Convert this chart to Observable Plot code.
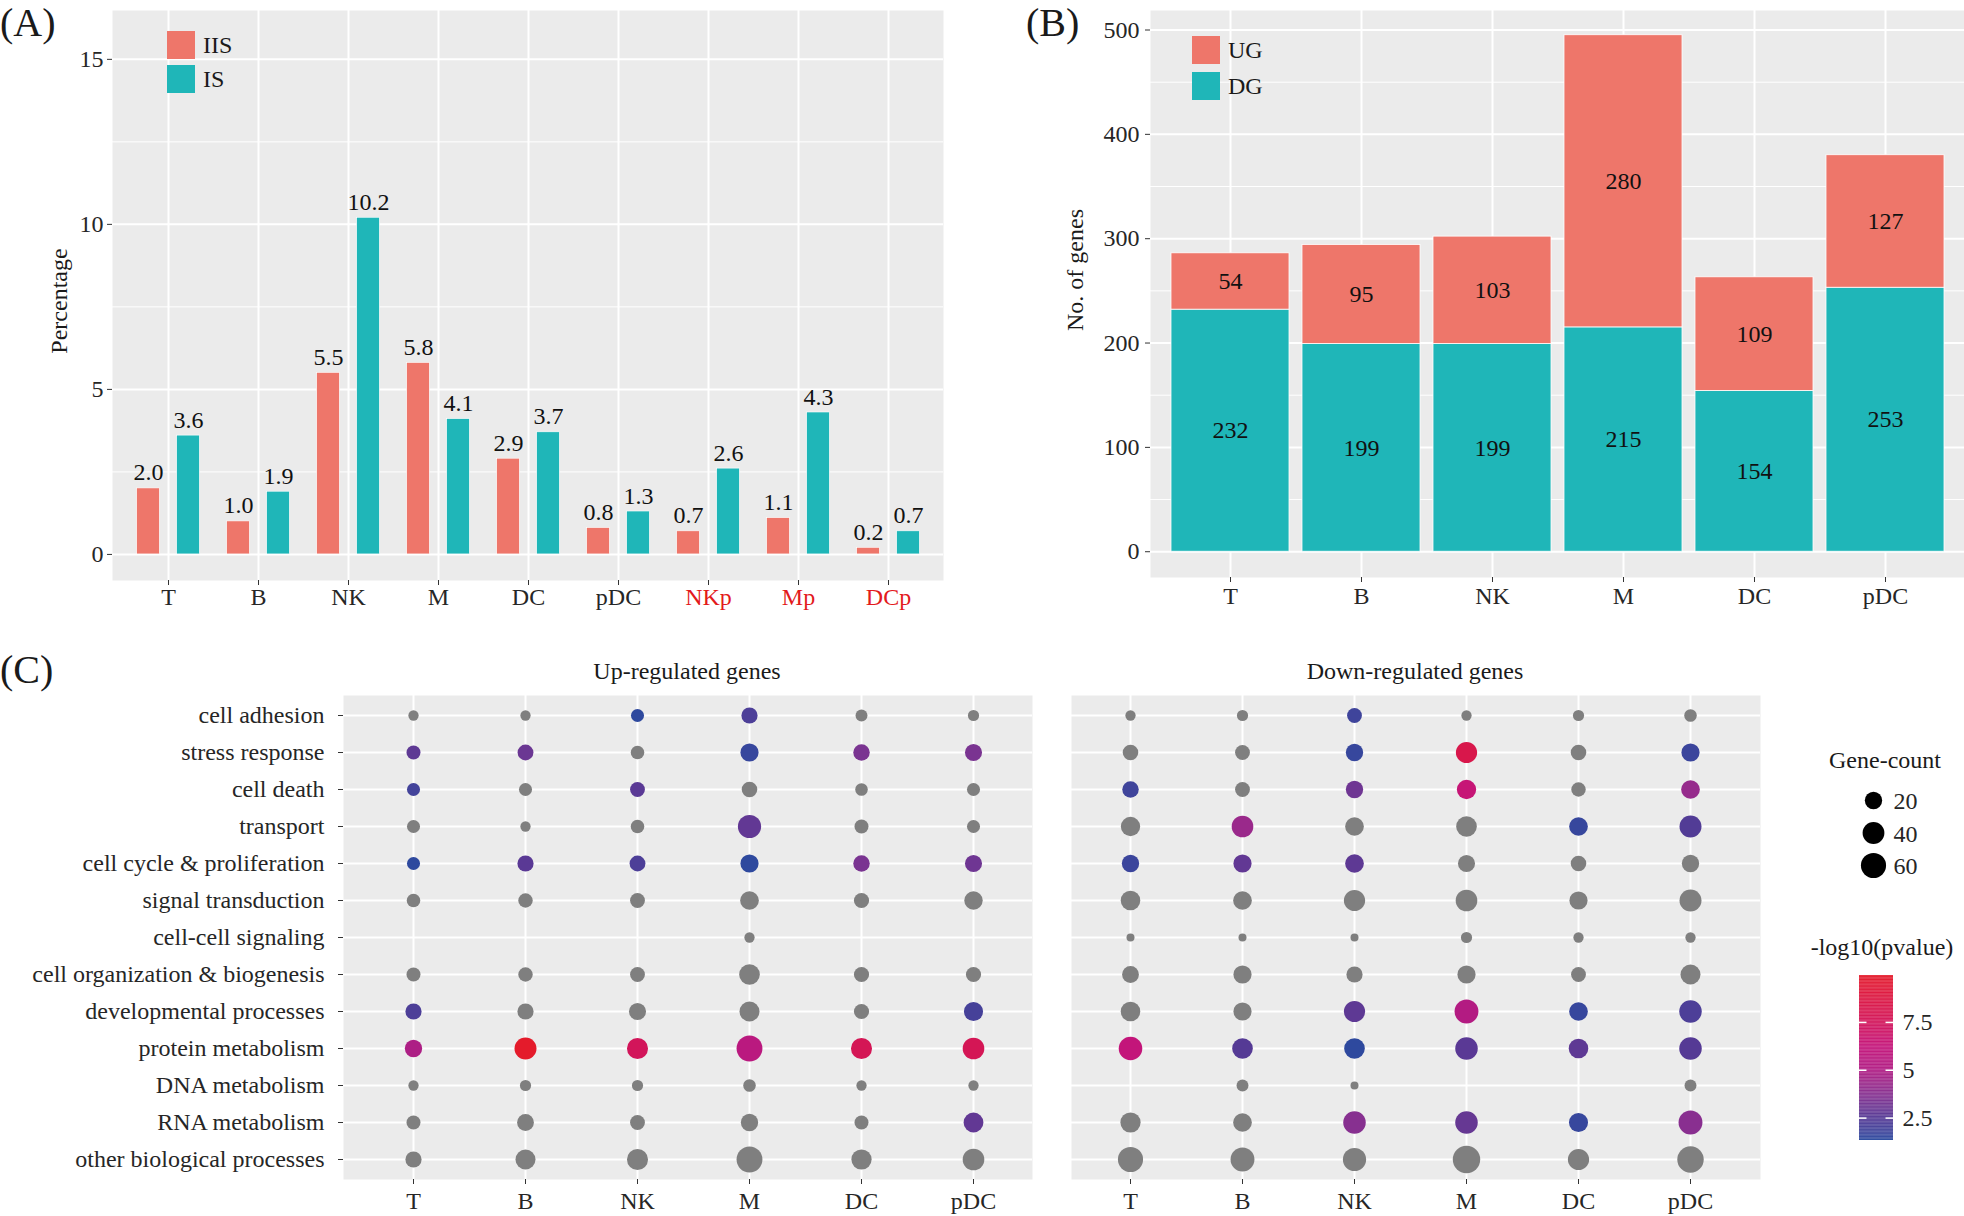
<!DOCTYPE html>
<html><head><meta charset="utf-8">
<script src="https://cdn.jsdelivr.net/npm/d3@7"></script>
<script src="https://cdn.jsdelivr.net/npm/@observablehq/plot@0.6"></script>
<style>
body{margin:0;background:#fff;}
#root{position:relative;width:1964px;height:1216px;overflow:hidden;font-family:"Liberation Serif","Times New Roman",serif;color:#1a1a1a;}
</style></head><body><div id="root"></div>
<script>
// ---------------- DATA ----------------
const cellsA = ["T","B","NK","M","DC","pDC","NKp","Mp","DCp"];
const redCellsA = ["NKp","Mp","DCp"];
const iisA = [2.0,1.0,5.5,5.8,2.9,0.8,0.7,1.1,0.2];
const isA  = [3.6,1.9,10.2,4.1,3.7,1.3,2.6,4.3,0.7];
const ticksA = [0,5,10,15];
const minorA = [2.5,7.5,12.5];

const cellsB = ["T","B","NK","M","DC","pDC"];
const ugB = [54,95,103,280,109,127];
const dgB = [232,199,199,215,154,253];
const ticksB = [0,100,200,300,400,500];
const minorB = [50,150,250,350,450];

const cellsC = ["T","B","NK","M","DC","pDC"];
const processes = ["cell adhesion","stress response","cell death","transport","cell cycle & proliferation","signal transduction","cell-cell signaling","cell organization & biogenesis","developmental processes","protein metabolism","DNA metabolism","RNA metabolism","other biological processes"];
const upCount = [
 [4,4,8,16,6,5],
 [10,15,9,23,17,19],
 [8,8,12,14,7,8],
 [8,4,9,48,10,8],
 [8,16,15,23,17,19],
 [9,11,12,25,13,24],
 [null,null,null,4,null,null],
 [10,11,12,34,13,13],
 [16,16,19,31,13,27],
 [20,41,36,65,36,39],
 [4,5,5,7,4,4],
 [10,18,12,20,10,30],
 [16,31,36,65,32,39]
];
const upP = [
 [null,null,1.4,2.2,null,null],
 [2.7,3.0,null,1.6,3.4,3.4],
 [1.9,null,2.6,null,null,null],
 [null,null,null,2.8,null,null],
 [1.4,2.6,2.2,1.4,3.4,3.1],
 [null,null,null,null,null,null],
 [null,null,null,null,null,null],
 [null,null,null,null,null,null],
 [2.2,null,null,null,null,2.0],
 [4.9,9.94,7.5,5.6,7.8,7.8],
 [null,null,null,null,null,null],
 [null,null,null,null,null,2.8],
 [null,null,null,null,null,null]
];
const downCount = [
 [4,5,12,4,5,7],
 [14,12,20,37,14,23],
 [17,12,20,28,11,25],
 [28,39,25,34,25,41],
 [20,23,25,19,14,20],
 [29,25,37,39,23,41],
 [3,3,3,5,4,4],
 [18,23,16,23,12,31],
 [29,23,37,52,25,44],
 [50,34,34,44,29,44],
 [null,6,3,null,null,6],
 [32,25,44,44,27,52],
 [60,52,48,76,37,69]
];
const downP = [
 [null,null,1.8,null,null,null],
 [null,null,1.6,8.3,null,1.7],
 [1.8,null,3.1,6.4,null,4.2],
 [null,4.3,null,null,1.6,2.4],
 [1.7,2.8,2.7,null,null,null],
 [null,null,null,null,null,null],
 [null,null,null,null,null,null],
 [null,null,null,null,null,null],
 [null,null,2.7,5.2,1.6,2.2],
 [6.2,2.5,1.4,2.6,2.7,2.5],
 [null,null,null,null,null,null],
 [null,null,3.75,2.9,1.6,3.8],
 [null,null,null,null,null,null]
];
const sizeBreaks = [20,40,60];
const colorTicks = [2.5,5,7.5];
const pRange = [1.33, 9.95];

// ---------------- STYLE ----------------
const FONT = '"Liberation Serif","Times New Roman",serif';
const SALMON = "#EE766A", TEAL = "#1FB6B8", PANEL = "#ebebeb", GRAYDOT = "#7f7f7f";
const TXT = "#262626", TICK = "#333333";
const root = document.getElementById("root");
const baseStyle = {fontFamily: FONT, fontSize: "24px", background: "transparent", overflow: "visible", color: TXT};

function place(el, x, y) {
  el.style.position = "absolute"; el.style.left = x + "px"; el.style.top = y + "px";
  el.style.overflow = "visible"; el.style.maxWidth = "none";
  root.appendChild(el);
}
function label(s, x, base, opts = {}) {
  const size = opts.size || 24;
  const lh = opts.lh || 1;
  const off = ((lh - 1.107) / 2 + 0.891) * size;
  const d = document.createElement("div");
  d.textContent = s;
  d.style.cssText = `position:absolute;left:${x}px;top:${base - off}px;font-size:${size}px;line-height:${lh};white-space:nowrap;color:${opts.color || "#1a1a1a"};font-family:${FONT};`;
  if (opts.anchor === "middle") d.style.transform = "translateX(-50%)";
  if (opts.anchor === "end") d.style.transform = "translateX(-100%)";
  root.appendChild(d);
}
function vlabel(s, cx, cy, size = 24) {
  const d = document.createElement("div");
  d.textContent = s;
  d.style.cssText = `position:absolute;left:${cx}px;top:${cy}px;font-size:${size}px;line-height:1;white-space:nowrap;color:#1a1a1a;font-family:${FONT};transform:translate(-50%,-50%) rotate(-90deg);`;
  root.appendChild(d);
}
function swatch(x, y, w, h, color) {
  const d = document.createElement("div");
  d.style.cssText = `position:absolute;left:${x}px;top:${y}px;width:${w}px;height:${h}px;background:${color};`;
  root.appendChild(d);
}

// ---------------- PANEL A ----------------
const aIIS = cellsA.map((c, i) => ({cell: c, v: iisA[i]}));
const aIS = cellsA.map((c, i) => ({cell: c, v: isA[i]}));
const stepA = (943 - 112) / 9.2;
const insA = (stepA - 23) / 2;
const plotA = Plot.plot({
  width: 1015, height: 620, marginLeft: 112, marginRight: 72, marginTop: 10, marginBottom: 40,
  style: baseStyle,
  x: {type: "band", domain: cellsA, paddingInner: 0, paddingOuter: 0.1, axis: null},
  y: {domain: [-0.79, 16.48], axis: null},
  marks: [
    Plot.frame({fill: PANEL, stroke: "none"}),
    Plot.ruleY(minorA, {stroke: "#fff", strokeWidth: 1}),
    Plot.ruleY(ticksA, {stroke: "#fff", strokeWidth: 2}),
    Plot.ruleX(cellsA, {x: d => d, stroke: "#fff", strokeWidth: 2}),
    Plot.barY(aIIS, {x: "cell", y: "v", fill: SALMON, stroke: "#fff", strokeWidth: 0.6, insetLeft: insA, insetRight: insA, dx: -20}),
    Plot.barY(aIS, {x: "cell", y: "v", fill: TEAL, stroke: "#fff", strokeWidth: 0.6, insetLeft: insA, insetRight: insA, dx: 20}),
    Plot.text(aIIS, {x: "cell", y: "v", text: d => d.v.toFixed(1), dx: -20, dy: -8, lineAnchor: "bottom", fontSize: 24, fill: "#111"}),
    Plot.text(aIS, {x: "cell", y: "v", text: d => d.v.toFixed(1), dx: 20, dy: -8, lineAnchor: "bottom", fontSize: 24, fill: "#111"}),
    Plot.axisY({ticks: ticksA, tickSize: 5, tickPadding: 4, fontSize: 24, fill: TXT, stroke: TICK, label: null}),
    Plot.axisX({tickSize: 5, tickFormat: () => "", stroke: TICK, label: null}),
    Plot.text(cellsA, {x: d => d, text: d => d, frameAnchor: "bottom", lineAnchor: "top", dy: 7, fontSize: 24,
      fill: d => redCellsA.includes(d) ? "#e31a1c" : TXT})
  ]
});
place(plotA, 0, 0);
label("(A)", 0, 36, {size: 40});
vlabel("Percentage", 59, 301);
swatch(167, 31, 28, 28, SALMON);
swatch(167, 65, 28, 28, TEAL);
label("IIS", 203, 53);
label("IS", 203, 87);

// ---------------- PANEL B ----------------
const bData = cellsB.flatMap((c, i) => [
  {cell: c, g: "DG", v: dgB[i], mid: dgB[i] / 2},
  {cell: c, g: "UG", v: ugB[i], mid: dgB[i] + ugB[i] / 2}
]);
const plotB = Plot.plot({
  width: 949, height: 620, marginLeft: 135, marginRight: 0, marginTop: 10, marginBottom: 43,
  style: baseStyle,
  x: {type: "band", domain: cellsB, paddingInner: 0.1, paddingOuter: 0.15, axis: null},
  y: {domain: [-24.7, 518.7], axis: null},
  color: {domain: ["UG", "DG"], range: [SALMON, TEAL]},
  marks: [
    Plot.frame({fill: PANEL, stroke: "none"}),
    Plot.ruleY(minorB, {stroke: "#fff", strokeWidth: 1}),
    Plot.ruleY(ticksB, {stroke: "#fff", strokeWidth: 2}),
    Plot.ruleX(cellsB, {x: d => d, stroke: "#fff", strokeWidth: 2}),
    Plot.barY(bData, Plot.stackY({x: "cell", y: "v", z: "g", fill: "g", stroke: "#fff", strokeWidth: 0.8})),
    Plot.text(bData, {x: "cell", y: "mid", text: d => String(d.v), fontSize: 24, fill: "#111"}),
    Plot.axisY({ticks: ticksB, tickSize: 5, tickPadding: 6, fontSize: 24, fill: TXT, stroke: TICK, label: null}),
    Plot.axisX({tickSize: 5, tickPadding: 4, fontSize: 24, fill: TXT, stroke: TICK, label: null})
  ]
});
place(plotB, 1015, 0);
label("(B)", 1026, 36, {size: 40});
vlabel("No. of genes", 1075, 270);
swatch(1192, 36, 28, 28, SALMON);
swatch(1192, 72, 28, 28, TEAL);
label("UG", 1228, 58);
label("DG", 1228, 94);

// ---------------- PANEL C ----------------
const rOf = v => 1 + Math.sqrt(Math.max(0, (v - 3) / 73));
const rScale = {type: "linear", domain: [1, 2], range: [4.0, 13.7]};
const colorScale = {
  type: "linear",
  domain: [1.33, 2.5, 3.75, 5, 6.25, 7.5, 9.95],
  range: ["#2a4a9f", "#553a95", "#873090", "#b01c84", "#c4157a", "#d2155a", "#e41b2b"],
  interpolate: "lab"
};
function dotPanel(counts, ps, showY, W, H, mL, mR, mT, mB, alignX) {
  const gray = [], sig = [];
  processes.forEach((p, i) => cellsC.forEach((c, j) => {
    const n = counts[i][j];
    if (n == null) return;
    const d = {proc: p, cell: c, n, p: ps[i][j]};
    (d.p == null ? gray : sig).push(d);
  }));
  return Plot.plot({
    width: W, height: H, marginLeft: mL, marginRight: mR, marginTop: mT, marginBottom: mB,
    style: baseStyle,
    x: {type: "point", domain: cellsC, padding: 0.55, align: alignX, axis: null},
    y: {type: "point", domain: processes, padding: 0.52, axis: null},
    r: rScale,
    color: colorScale,
    marks: [
      Plot.frame({fill: PANEL, stroke: "none"}),
      Plot.ruleY(processes, {y: d => d, stroke: "#fff", strokeWidth: 2}),
      Plot.ruleX(cellsC, {x: d => d, stroke: "#fff", strokeWidth: 2}),
      Plot.dot(gray, {x: "cell", y: "proc", r: d => rOf(d.n), fill: GRAYDOT}),
      Plot.dot(sig, {x: "cell", y: "proc", r: d => rOf(d.n), fill: "p"}),
      Plot.axisX({tickSize: 5, tickPadding: 7, fontSize: 24, fill: TXT, stroke: TICK, label: null}),
      showY ? Plot.axisY({tickSize: 5, tickPadding: 14, fontSize: 24, fill: TXT, stroke: TICK, label: null}) : null
    ]
  });
}
const plotUp = dotPanel(upCount, upP, true, 1050, 566, 343, 18, 45, 37, 0.54);
place(plotUp, 0, 650);
const plotDown = dotPanel(downCount, downP, false, 720, 566, 21, 10, 45, 37, 0.46);
place(plotDown, 1050, 650);
label("(C)", 0, 683, {size: 40});
label("Up-regulated genes", 687, 679, {anchor: "middle"});
label("Down-regulated genes", 1415, 679, {anchor: "middle"});

// size legend
label("Gene-count", 1885, 768, {anchor: "middle"});
const sizeLeg = Plot.plot({
  width: 100, height: 110, marginLeft: 0, marginRight: 0, marginTop: 0, marginBottom: 0,
  style: baseStyle,
  x: {domain: [0, 1], range: [20, 40], axis: null},
  y: {domain: [20, 60], range: [20, 85], axis: null},
  r: rScale,
  marks: [
    Plot.dot(sizeBreaks, {x: 0, y: d => d, r: d => rOf(d), fill: "#000"}),
    Plot.text(sizeBreaks, {x: 0, y: d => d, text: d => String(d), dx: 20, dy: 1, textAnchor: "start", fontSize: 24, fill: TXT})
  ]
});
place(sizeLeg, 1853, 780);

// colour legend
label("-log10(pvalue)", 1882, 955, {anchor: "middle"});
const sliceStep = 0.04;
const slices = d3.range(pRange[0], pRange[1], sliceStep).map(a => ({a, b: Math.min(pRange[1], a + sliceStep + 0.01), m: a + sliceStep / 2}));
const colorLeg = Plot.plot({
  width: 110, height: 200, marginLeft: 9, marginRight: 67, marginTop: 15, marginBottom: 20,
  style: baseStyle,
  x: {domain: [0, 1], axis: null},
  y: {domain: pRange, axis: null},
  color: colorScale,
  marks: [
    Plot.rect(slices, {x1: 0, x2: 1, y1: "a", y2: "b", fill: "m"}),
    Plot.ruleY(colorTicks, {x1: 0, x2: 0.22, stroke: "#fff", strokeWidth: 1.5}),
    Plot.ruleY(colorTicks, {x1: 0.78, x2: 1, stroke: "#fff", strokeWidth: 1.5}),
    Plot.text(colorTicks, {x: 1, y: d => d, text: d => String(d), dx: 9, textAnchor: "start", fontSize: 24, fill: TXT})
  ]
});
place(colorLeg, 1850, 960);
</script>
</body></html>
